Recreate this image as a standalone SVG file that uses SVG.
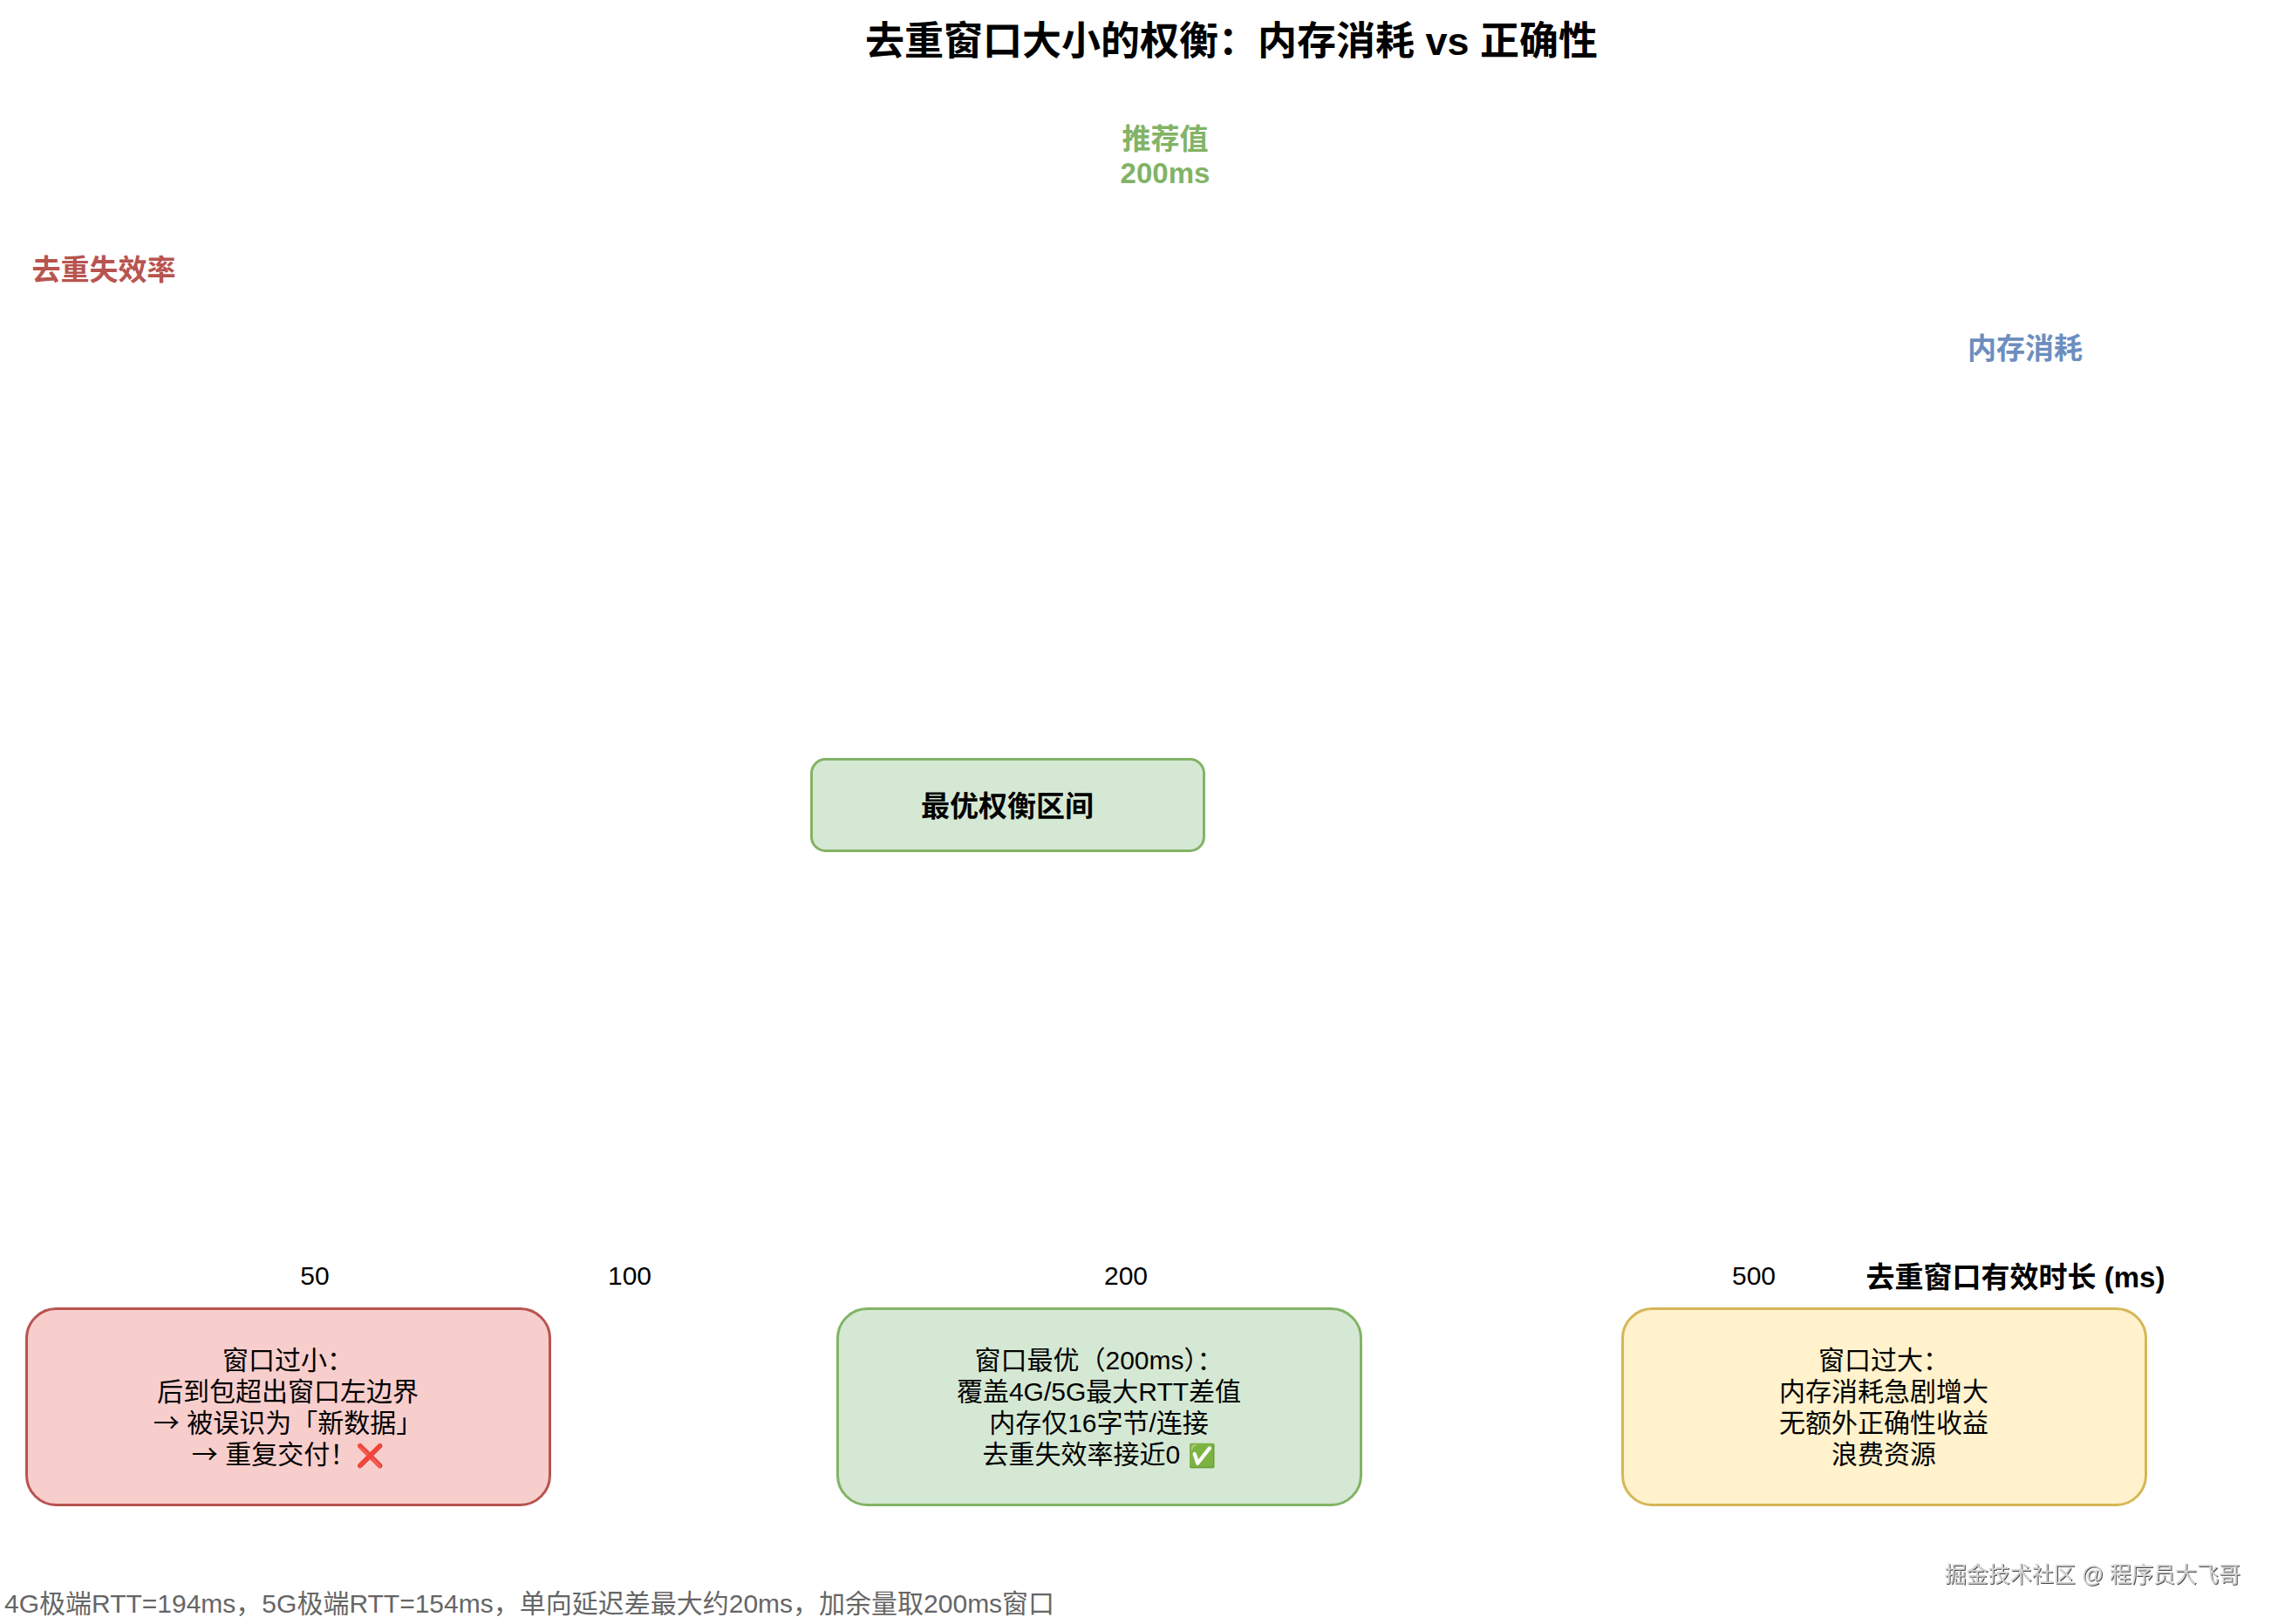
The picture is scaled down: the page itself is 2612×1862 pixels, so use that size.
<svg xmlns="http://www.w3.org/2000/svg" width="2612" height="1862" viewBox="0 0 2612 1862">
<style>
text{font-family:"Liberation Sans","Noto Sans CJK SC",sans-serif;text-anchor:middle;font-size:30px;fill:#000}
.b{font-weight:bold;font-size:33px}
.t{font-weight:bold;font-size:45px}
.red{fill:#b85450}.blue{fill:#6c8ebf}.green{fill:#82b366}
.note{fill:#666666;text-anchor:start}
.wm{fill:#d4d4d4;font-size:25px;text-anchor:end;filter:url(#emboss)}
.arrow{font-family:"Noto Sans CJK SC",sans-serif}
.emoji{font-size:26px}
rect{stroke-width:3}
.rf{fill:#f8cecc;stroke:#b85450}.gf{fill:#d5e8d4;stroke:#82b366}.yf{fill:#fff2cc;stroke:#d6b656}
</style>
<defs><filter id="emboss" x="-5%" y="-20%" width="110%" height="150%"><feDropShadow dx="1" dy="1" stdDeviation="0.4" flood-color="#444444"/></filter></defs>
<rect width="2612" height="1862" fill="#ffffff" style="stroke:none"/>
<g id="title"><text class="t" x="1412" y="63">去重窗口大小的权衡：内存消耗 vs 正确性</text></g>
<g id="recommended"><text class="b green" x="1336" y="171">推荐值</text><text class="b green" x="1336" y="210">200ms</text></g>
<g id="label-dedup-failure"><text class="b red" x="119" y="321">去重失效率</text></g>
<g id="label-memory"><text class="b blue" x="2322" y="411">内存消耗</text></g>
<g id="optimal-range"><rect class="gf" x="930.5" y="870.5" width="450" height="105" rx="16"/><text class="b" x="1155" y="936">最优权衡区间</text></g>
<g id="ticks"><text x="361" y="1473">50</text><text x="722" y="1473">100</text><text x="1291" y="1473">200</text><text x="2011" y="1473">500</text></g>
<g id="axis-label"><text class="b" x="2311" y="1476">去重窗口有效时长 (ms)</text></g>
<g id="box-small"><rect class="rf" x="30.5" y="1500.5" width="600" height="225" rx="34"/>
<text x="330" y="1570">窗口过小：</text><text x="330" y="1606">后到包超出窗口左边界</text><text x="330" y="1642"><tspan class="arrow">→</tspan> 被误识为「新数据」</text><text x="330" y="1678"><tspan class="arrow">→</tspan> 重复交付！<tspan class="emoji">❌</tspan></text></g>
<g id="box-optimal"><rect class="gf" x="960.5" y="1500.5" width="600" height="225" rx="34"/>
<text x="1260" y="1570">窗口最优（200ms）：</text><text x="1260" y="1606">覆盖4G/5G最大RTT差值</text><text x="1260" y="1642">内存仅16字节/连接</text><text x="1260" y="1678">去重失效率接近0 <tspan class="emoji">✅</tspan></text></g>
<g id="box-large"><rect class="yf" x="1860.5" y="1500.5" width="600" height="225" rx="34"/>
<text x="2160" y="1570">窗口过大：</text><text x="2160" y="1606">内存消耗急剧增大</text><text x="2160" y="1642">无额外正确性收益</text><text x="2160" y="1678">浪费资源</text></g>
<g id="footnote"><text class="note" x="5" y="1849">4G极端RTT=194ms，5G极端RTT=154ms，单向延迟差最大约20ms，加余量取200ms窗口</text></g>
<g id="watermark"><text class="wm" x="2569" y="1814">掘金技术社区 @ 程序员大飞哥</text></g>
</svg>
